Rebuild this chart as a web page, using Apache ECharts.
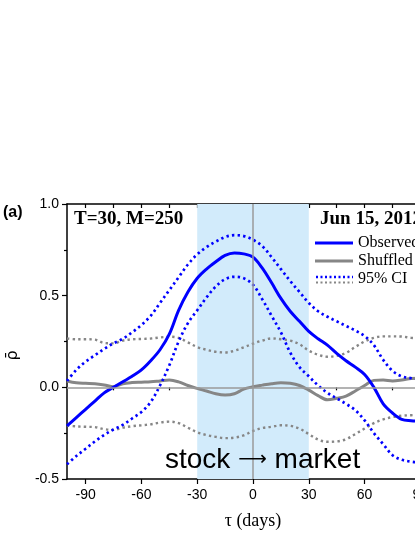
<!DOCTYPE html>
<html>
<head>
<meta charset="utf-8">
<script src="https://cdn.jsdelivr.net/npm/echarts@6/dist/echarts.min.js"></script>
<style>
  html, body { margin: 0; padding: 0; overflow: hidden; background: #fff; }
  #chart { width: 460px; height: 537px; }
</style>
</head>
<body>
<div id="chart"></div>
<script>
// lag tau (days)
var tau = [-100, -95, -90, -85, -80, -75, -70, -65, -60, -55, -50, -45, -40, -35, -30, -25, -20, -15, -10, -5,
  0, 5, 10, 15, 20, 25, 30, 35, 40, 45, 50, 55, 60, 65, 70, 75, 80, 85, 90, 95, 100];

// observed rho
var observed = [-0.21, -0.165, -0.12, -0.075, -0.03, 0.0, 0.03, 0.06, 0.095, 0.145, 0.205, 0.29, 0.42, 0.52, 0.595, 0.645, 0.685, 0.72, 0.733, 0.728,
  0.71, 0.65, 0.57, 0.485, 0.415, 0.36, 0.305, 0.265, 0.23, 0.185, 0.145, 0.11, 0.07, 0.0, -0.09, -0.14, -0.175, -0.182, -0.185, -0.19, -0.19];
var obsUpper = [0.035, 0.095, 0.14, 0.175, 0.21, 0.24, 0.265, 0.30, 0.34, 0.39, 0.46, 0.53, 0.60, 0.67, 0.725, 0.765, 0.795, 0.82, 0.83, 0.825,
  0.805, 0.77, 0.71, 0.645, 0.58, 0.52, 0.46, 0.415, 0.385, 0.36, 0.335, 0.31, 0.28, 0.23, 0.15, 0.09, 0.06, 0.05, 0.045, 0.04, 0.04];
var obsLower = [-0.42, -0.375, -0.335, -0.295, -0.26, -0.23, -0.205, -0.17, -0.135, -0.08, 0.01, 0.12, 0.25, 0.35, 0.42, 0.49, 0.55, 0.59, 0.603, 0.595,
  0.56, 0.48, 0.39, 0.30, 0.19, 0.11, 0.06, 0.01, -0.03, -0.06, -0.09, -0.125, -0.18, -0.25, -0.31, -0.37, -0.395, -0.405, -0.41, -0.41, -0.41];

// shuffled rho
var shuffled = [0.035, 0.025, 0.022, 0.02, 0.013, 0.003, 0.02, 0.026, 0.028, 0.03, 0.035, 0.04, 0.03, 0.01, -0.006, -0.02, -0.035, -0.042, -0.035, -0.01,
  0.003, 0.012, 0.02, 0.025, 0.022, 0.01, -0.015, -0.045, -0.068, -0.06, -0.048, -0.02, 0.01, 0.038, 0.04, 0.035, 0.04, 0.048, 0.05, 0.05, 0.05];
var shufUpper = [0.267, 0.262, 0.262, 0.26, 0.242, 0.24, 0.255, 0.262, 0.264, 0.266, 0.272, 0.276, 0.27, 0.245, 0.22, 0.205, 0.194, 0.19, 0.2, 0.218,
  0.238, 0.255, 0.267, 0.262, 0.255, 0.235, 0.2, 0.178, 0.167, 0.172, 0.188, 0.22, 0.25, 0.27, 0.278, 0.278, 0.277, 0.27, 0.268, 0.268, 0.268];
var shufLower = [-0.209, -0.213, -0.215, -0.217, -0.228, -0.232, -0.22, -0.212, -0.207, -0.202, -0.192, -0.187, -0.195, -0.22, -0.245, -0.26, -0.27, -0.277, -0.274, -0.262,
  -0.238, -0.222, -0.215, -0.207, -0.21, -0.225, -0.255, -0.285, -0.297, -0.295, -0.283, -0.255, -0.225, -0.195, -0.175, -0.162, -0.155, -0.152, -0.15, -0.15, -0.15];

// tick positions
var xMajorTicks = [-90, -60, -30, 0, 30, 60, 90];
var xMinorTicks = [-75, -45, -15, 15, 45, 75];
var xTopTicks = [-90, -75, -60, -45, -30, -15, 0, 15, 30, 45, 60, 75, 90];
var shadeRange = [-30, 30];

function pairs(ys) {
  return tau.map(function (t, i) { return [t, ys[i]]; });
}

var chart = echarts.init(document.getElementById('chart'));

var BLUE = '#0000ff';
var GRAY = '#868686';
var dots = [2.4, 3.2];

var option = {
  animation: false,
  grid: { left: 67, top: 204, width: 372, height: 275, outerBoundsMode: 'none', containLabel: false },
  xAxis: [
    {
      type: 'value', min: -100, max: 100, position: 'bottom',
      name: 'τ (days)', nameLocation: 'middle', nameGap: 33,
      nameTextStyle: { fontFamily: 'Liberation Serif', fontSize: 18, color: '#000' },
      axisLine: { onZero: false, lineStyle: { color: '#000', width: 1.5 } },
      axisTick: { customValues: xMajorTicks, length: 5, lineStyle: { color: '#000', width: 1.2 } },
      axisLabel: { customValues: xMajorTicks, margin: 9, fontFamily: 'Liberation Sans', fontSize: 14, color: '#000' },
      splitLine: { show: false }
    },
    {
      type: 'value', min: -100, max: 100, position: 'bottom',
      axisLine: { show: false },
      axisTick: { customValues: xMinorTicks, length: 3, lineStyle: { color: '#000', width: 1.2 } },
      axisLabel: { show: false },
      splitLine: { show: false }
    },
    {
      type: 'value', min: -100, max: 100, position: 'top',
      axisLine: { onZero: false, lineStyle: { color: '#000', width: 1.5 } },
      axisTick: { customValues: xTopTicks, inside: true, length: 4, lineStyle: { color: '#000', width: 1.2 } },
      axisLabel: { show: false },
      splitLine: { show: false }
    }
  ],
  yAxis: [
    {
      type: 'value', min: -0.5, max: 1.0, interval: 0.5, position: 'left',
      name: 'ρ̄', nameLocation: 'middle', nameGap: 46, nameRotate: 90,
      nameTextStyle: { fontFamily: 'DejaVu Sans', fontSize: 16, color: '#000', padding: [0, 28, 0, 0] },
      axisLine: { onZero: false, lineStyle: { color: '#000', width: 1.5 } },
      axisTick: { length: 5, lineStyle: { color: '#000', width: 1.2 } },
      minorTick: { show: true, splitNumber: 2, length: 3, lineStyle: { color: '#000', width: 1.2 } },
      axisLabel: {
        margin: 8, fontFamily: 'Liberation Sans', fontSize: 14, color: '#000',
        formatter: function (v) { return v.toFixed(1); }
      },
      splitLine: { show: false }
    },
    {
      type: 'value', min: -0.5, max: 1.0, interval: 0.5, position: 'right',
      axisLine: { onZero: false, lineStyle: { color: '#000', width: 1.5 } },
      axisTick: { inside: true, length: 4, lineStyle: { color: '#000' } },
      axisLabel: { show: false },
      splitLine: { show: false }
    }
  ],
  series: [
    {
      name: 'Shuffled upper', type: 'line', smooth: 0.35, showSymbol: false, silent: true,
      data: pairs(shufUpper),
      lineStyle: { color: GRAY, width: 2.4, type: dots, cap: 'butt' },
      markArea: {
        silent: true,
        itemStyle: { color: '#d2ebfb' },
        data: [[{ xAxis: shadeRange[0] }, { xAxis: shadeRange[1] }]]
      },
      markLine: {
        silent: true, symbol: 'none', label: { show: false },
        lineStyle: { color: '#9a9a9a', width: 1.5, type: 'solid' },
        data: [{ yAxis: 0 }, { xAxis: 0 }]
      }
    },
    {
      name: 'Shuffled lower', type: 'line', smooth: 0.35, showSymbol: false, silent: true,
      data: pairs(shufLower),
      lineStyle: { color: GRAY, width: 2.4, type: dots, cap: 'butt' }
    },
    {
      name: 'Shuffled', type: 'line', smooth: 0.35, showSymbol: false, silent: true,
      data: pairs(shuffled),
      lineStyle: { color: GRAY, width: 3 }
    },
    {
      name: 'CI upper', type: 'line', smooth: 0.35, showSymbol: false, silent: true,
      data: pairs(obsUpper),
      lineStyle: { color: BLUE, width: 2.7, type: dots, cap: 'butt' }
    },
    {
      name: 'CI lower', type: 'line', smooth: 0.35, showSymbol: false, silent: true,
      data: pairs(obsLower),
      lineStyle: { color: BLUE, width: 2.7, type: dots, cap: 'butt' }
    },
    {
      name: 'Observed', type: 'line', smooth: 0.35, showSymbol: false, silent: true,
      data: pairs(observed),
      lineStyle: { color: BLUE, width: 3 }
    }
  ],
  graphic: [
    { type: 'text', z: 100, left: 3, top: 205, style: { text: '(a)', font: 'bold 16px "Liberation Sans"', fill: '#000' } },
    { type: 'text', z: 100, left: 74, top: 210, style: { text: 'T=30, M=250', font: 'bold 19px "Liberation Serif"', fill: '#000' } },
    { type: 'text', z: 100, left: 320, top: 210, style: { text: 'Jun 15, 2012', font: 'bold 19px "Liberation Serif"', fill: '#000' } },
    { type: 'line', z: 100, shape: { x1: 315, y1: 243, x2: 353, y2: 243 }, style: { stroke: BLUE, lineWidth: 3 } },
    { type: 'text', z: 100, left: 358, top: 235, style: { text: 'Observed', font: '16px "Liberation Serif"', fill: '#000' } },
    { type: 'line', z: 100, shape: { x1: 315, y1: 261, x2: 353, y2: 261 }, style: { stroke: GRAY, lineWidth: 3 } },
    { type: 'text', z: 100, left: 358, top: 253, style: { text: 'Shuffled', font: '16px "Liberation Serif"', fill: '#000' } },
    { type: 'line', z: 100, shape: { x1: 316, y1: 277, x2: 353, y2: 277 }, style: { stroke: BLUE, lineWidth: 2.6, lineDash: [2, 2.5] } },
    { type: 'line', z: 100, shape: { x1: 316, y1: 282.5, x2: 353, y2: 282.5 }, style: { stroke: GRAY, lineWidth: 2.2, lineDash: [2, 2.5] } },
    { type: 'text', z: 100, left: 358, top: 271, style: { text: '95% CI', font: '16px "Liberation Serif"', fill: '#000' } },
    {
      type: 'text', z: 100, left: 165, top: 446,
      style: {
        text: '{a|stock }{b|⟶}{a| market}',
        rich: {
          a: { fontFamily: 'Liberation Sans', fontSize: 28, fill: '#000' },
          b: { fontFamily: 'DejaVu Sans', fontSize: 20, fill: '#000' }
        }
      }
    }
  ]
};

chart.setOption(option);
</script>
</body>
</html>
